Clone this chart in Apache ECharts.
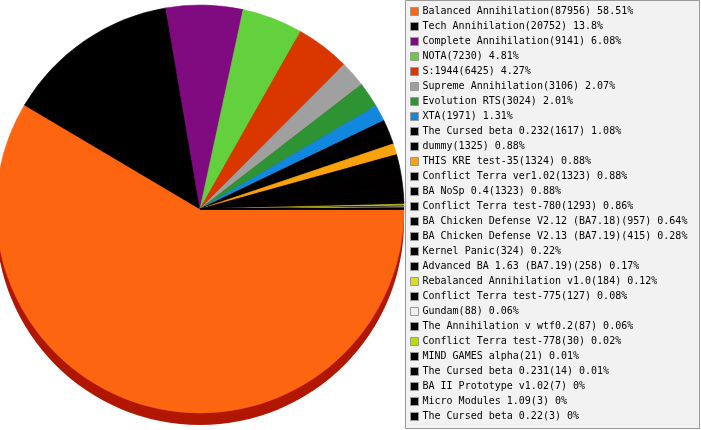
<!DOCTYPE html>
<html>
<head>
<meta charset="utf-8">
<style>html,body{margin:0;padding:0;background:#fff}#c{width:701px;height:430px}</style>
<script src="https://cdn.jsdelivr.net/npm/echarts@6/dist/echarts.min.js"></script>
</head>
<body>
<div id="c"></div>
<script>
var names = [
  "Balanced Annihilation","Tech Annihilation","Complete Annihilation","NOTA","S:1944",
  "Supreme Annihilation","Evolution RTS","XTA","The Cursed beta 0.232","dummy",
  "THIS KRE test-35","Conflict Terra ver1.02","BA NoSp 0.4","Conflict Terra test-780",
  "BA Chicken Defense V2.12 (BA7.18)","BA Chicken Defense V2.13 (BA7.19)","Kernel Panic",
  "Advanced BA 1.63 (BA7.19)","Rebalanced Annihilation v1.0","Conflict Terra test-775",
  "Gundam","The Annihilation v wtf0.2","Conflict Terra test-778","MIND GAMES alpha",
  "The Cursed beta 0.231","BA II Prototype v1.02","Micro Modules 1.09","The Cursed beta 0.22"
];
var values = [87956,20752,9141,7230,6425,3106,3024,1971,1617,1325,1324,1323,1323,1293,957,415,324,258,184,127,88,87,30,21,14,7,3,3];
var colors = [
  "#fd6510","#000000","#800a80","#63d13e","#d93600","#a0a0a0","#2e9333","#1188dd","#000000","#000000",
  "#f8a20c","#000000","#000000","#000000","#000000","#000000","#000000","#000000","#dddd22","#000000",
  "#f0f0f0","#000000","#bbdd00","#000000","#000000","#000000","#000000","#000000"
];
var total = values.reduce(function(a,b){return a+b;},0);
var pct = {};
var data = names.map(function(n,i){
  pct[n] = Math.round(values[i]/total*10000)/100;
  return {name:n, value:values[i], itemStyle:{color:colors[i], borderColor:colors[i], borderWidth:0.6}};
});
var valOf = {};
names.forEach(function(n,i){valOf[n]=values[i];});

var chart = echarts.init(document.getElementById('c'), null, {renderer:'canvas'});
chart.setOption({
  animation:false,
  graphic:[{type:'rect', z:-10, silent:true,
    shape:{x:405.5,y:0.5,width:294,height:428},
    style:{fill:'#f2f2f2',stroke:'#999999',lineWidth:1}}],
  legend:{
    orient:'vertical', left:410, top:4, height:426, z:10,
    itemWidth:8, itemHeight:8, itemGap:0, padding:0,
    icon:'rect',
    itemStyle:{borderColor:'#999999',borderWidth:1},
    textStyle:{fontFamily:'DejaVu Sans Mono',fontSize:10,color:'#000',lineHeight:15,padding:[0,0,0,-1]},
    data:names,
    selectedMode:false,
    formatter:function(n){return n+'('+valOf[n]+') '+pct[n]+'%';}
  },
  series:[
    {type:'pie', silent:true, z:1, center:[200,221], radius:204, startAngle:0, clockwise:true,
     label:{show:false}, labelLine:{show:false},
     itemStyle:{color:'#b01600',borderWidth:0},
     data:[{name:'shadow',value:total}]},
    {type:'pie', z:2, center:[200,209], radius:204, startAngle:0, clockwise:true,
     minAngle:0, avoidLabelOverlap:false,
     label:{show:false}, labelLine:{show:false},
     emphasis:{disabled:true},
     data:data}
  ]
});
</script>
</body>
</html>
